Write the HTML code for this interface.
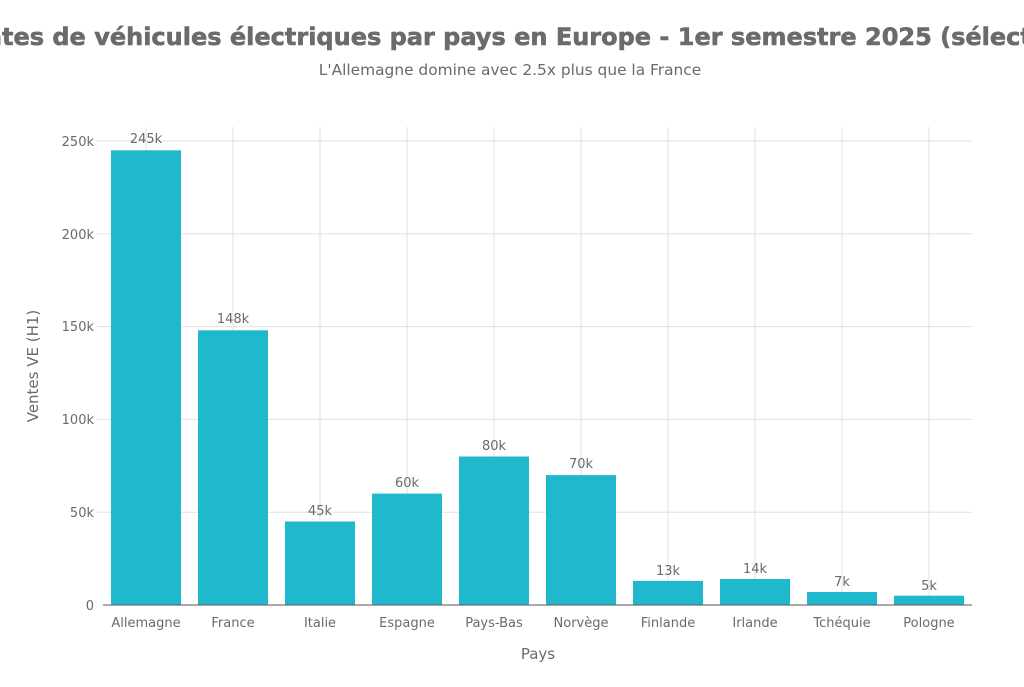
<!DOCTYPE html>
<html><head><meta charset="utf-8"><style>
body{margin:0;background:#fff;width:1024px;height:682px;overflow:hidden}
svg text{font-family:"DejaVu Sans","Liberation Sans",sans-serif;fill:#6a6a6a}
</style></head><body>
<svg width="1024" height="682" xmlns="http://www.w3.org/2000/svg">
<text x="518" y="45" text-anchor="middle" style="font-size:24px;font-weight:bold;fill:#6b6b6b;stroke:#6b6b6b;stroke-width:0.6">Ventes de véhicules électriques par pays en Europe - 1er semestre 2025 (sélection)</text>
<text x="510" y="75" text-anchor="middle" style="font-size:15.4px">L'Allemagne domine avec 2.5x plus que la France</text>
<g stroke="#e0e0e0" stroke-width="1">
<line x1="103" x2="972" y1="512.2" y2="512.2"/><line x1="103" x2="972" y1="419.4" y2="419.4"/>
<line x1="103" x2="972" y1="326.6" y2="326.6"/><line x1="103" x2="972" y1="233.8" y2="233.8"/>
<line x1="103" x2="972" y1="141" y2="141"/>
<line x1="146" x2="146" y1="127" y2="605"/><line x1="233" x2="233" y1="127" y2="605"/>
<line x1="320" x2="320" y1="127" y2="605"/><line x1="407" x2="407" y1="127" y2="605"/>
<line x1="494" x2="494" y1="127" y2="605"/><line x1="581" x2="581" y1="127" y2="605"/>
<line x1="668" x2="668" y1="127" y2="605"/><line x1="755" x2="755" y1="127" y2="605"/>
<line x1="842" x2="842" y1="127" y2="605"/><line x1="929" x2="929" y1="127" y2="605"/>
<line x1="97" x2="103" y1="512.2" y2="512.2"/><line x1="97" x2="103" y1="419.4" y2="419.4"/>
<line x1="97" x2="103" y1="326.6" y2="326.6"/><line x1="97" x2="103" y1="233.8" y2="233.8"/>
<line x1="97" x2="103" y1="141" y2="141"/>
</g>
<g fill="#1fb8cd">
<rect x="111" y="150.3" width="70" height="454.7"/>
<rect x="198" y="330.3" width="70" height="274.7"/>
<rect x="285" y="521.5" width="70" height="83.5"/>
<rect x="372" y="493.6" width="70" height="111.4"/>
<rect x="459" y="456.5" width="70" height="148.5"/>
<rect x="546" y="475.1" width="70" height="129.9"/>
<rect x="633" y="580.9" width="70" height="24.1"/>
<rect x="720" y="579" width="70" height="26"/>
<rect x="807" y="592" width="70" height="13"/>
<rect x="894" y="595.7" width="70" height="9.3"/>
</g>
<line x1="103" x2="972" y1="605" y2="605" stroke="#555" stroke-width="1"/>
<g style="font-size:13px" text-anchor="middle">
<text x="146" y="143">245k</text><text x="233" y="323">148k</text><text x="320" y="515">45k</text>
<text x="407" y="487">60k</text><text x="494" y="450">80k</text><text x="581" y="468">70k</text>
<text x="668" y="575">13k</text><text x="755" y="573">14k</text><text x="842" y="586">7k</text><text x="929" y="590">5k</text>
</g>
<g style="font-size:13px" text-anchor="end">
<text x="94" y="610">0</text><text x="94" y="517">50k</text><text x="94" y="424">100k</text>
<text x="94" y="331">150k</text><text x="94" y="239">200k</text><text x="94" y="146">250k</text>
</g>
<g style="font-size:13px" text-anchor="middle">
<text x="146" y="627">Allemagne</text><text x="233" y="627">France</text><text x="320" y="627">Italie</text>
<text x="407" y="627">Espagne</text><text x="494" y="627">Pays-Bas</text><text x="581" y="627">Norvège</text>
<text x="668" y="627">Finlande</text><text x="755" y="627">Irlande</text><text x="842" y="627">Tchéquie</text><text x="929" y="627">Pologne</text>
</g>
<text x="538" y="659" text-anchor="middle" style="font-size:15px">Pays</text>
<text transform="translate(38,366) rotate(-90)" text-anchor="middle" style="font-size:15px">Ventes VE (H1)</text>
</svg>
</body></html>
